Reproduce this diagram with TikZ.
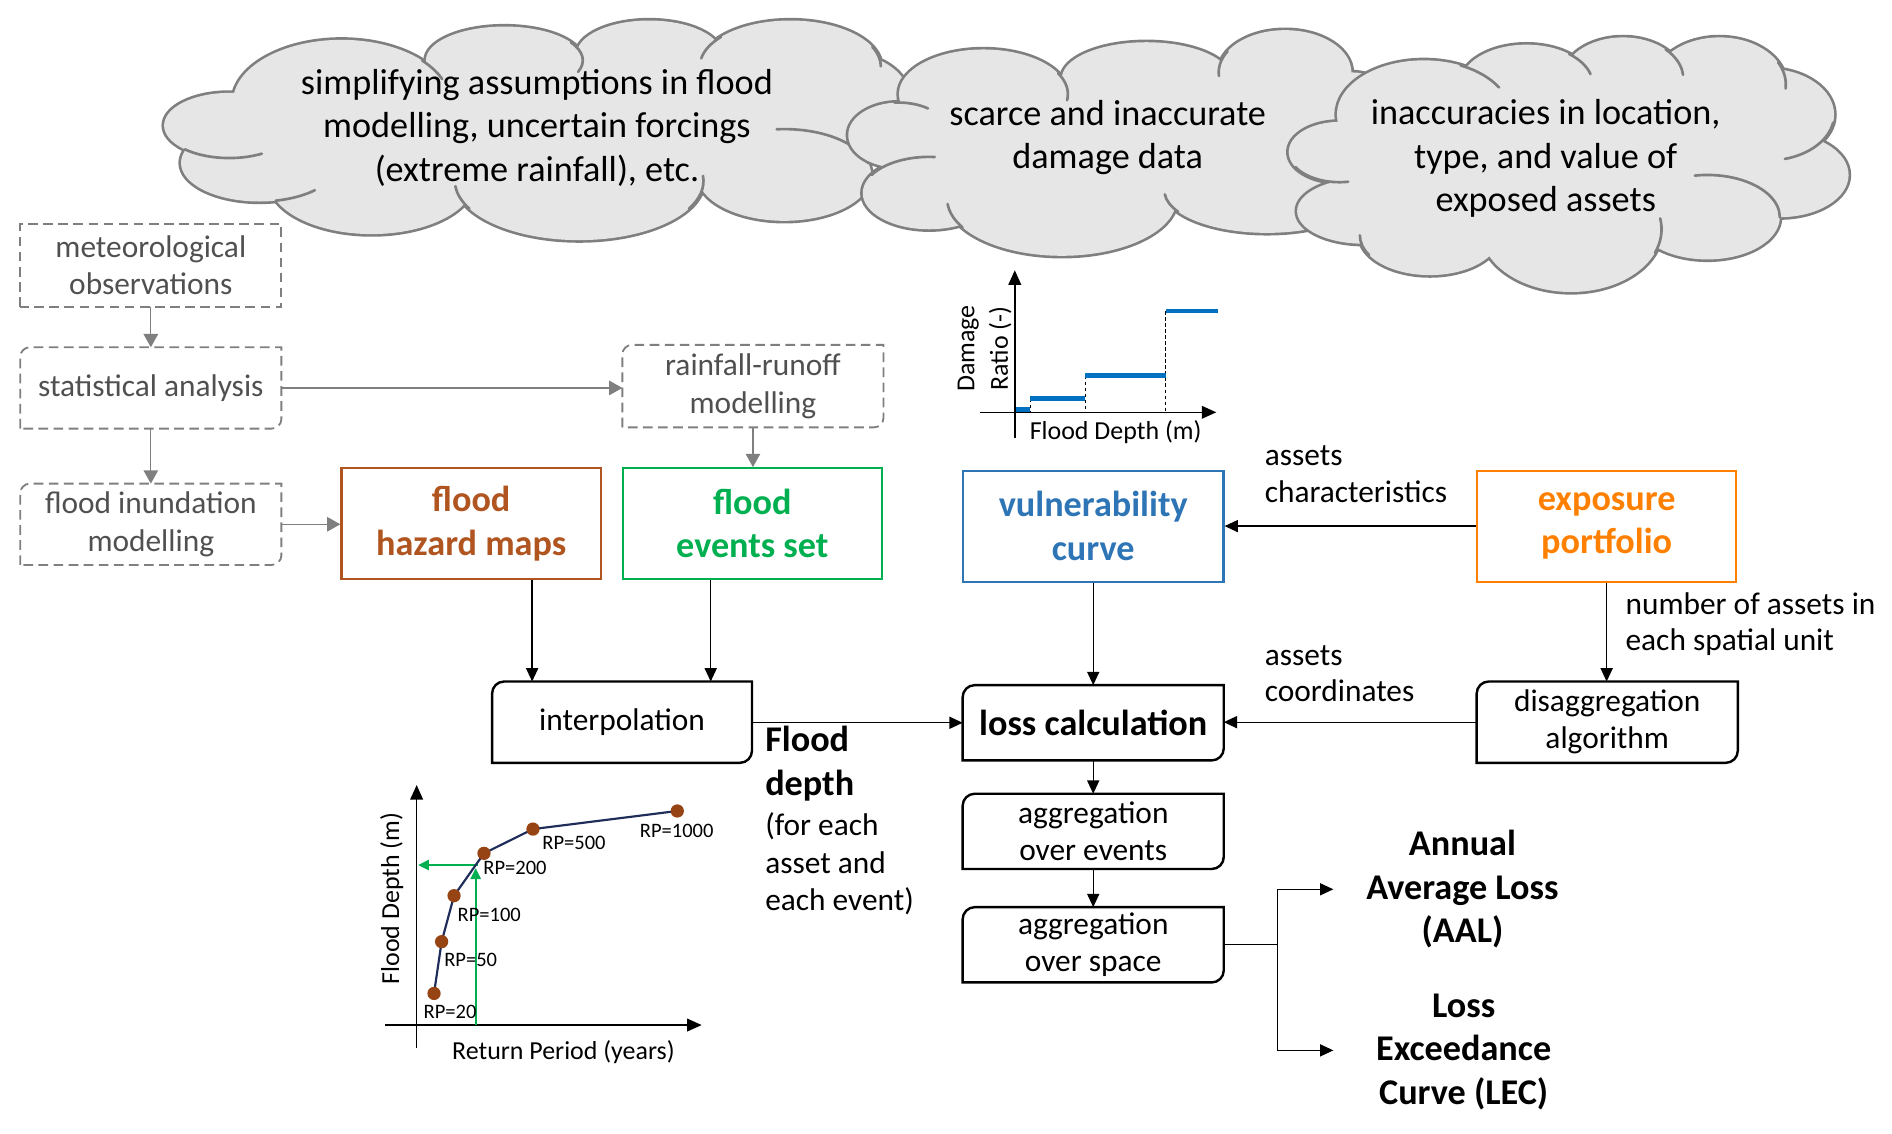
\documentclass[tikz,border=0pt]{standalone}
\usepackage{fontspec}
\setmainfont{Carlito}
\usetikzlibrary{arrows.meta,calc}
\definecolor{cloudfill}{RGB}{231,230,230}
\definecolor{cloudline}{RGB}{127,127,127}
\definecolor{dgray}{RGB}{127,127,127}
\definecolor{tgray}{RGB}{80,80,80}
\definecolor{hbrown}{RGB}{176,84,32}
\definecolor{egreen}{RGB}{0,176,80}
\definecolor{vblue}{RGB}{46,117,182}
\definecolor{xorange}{RGB}{255,128,0}
\definecolor{stepblue}{RGB}{0,112,192}
\definecolor{curvenavy}{RGB}{31,45,90}
\definecolor{dotbrown}{RGB}{150,68,20}
\definecolor{arrgreen}{RGB}{0,176,80}

\newcommand{\cornerframe}[3][]{\draw[#1] (#2.south west) -- ([yshift=-#3]#2.north west) arc[start angle=180,end angle=90,radius=#3] -- (#2.north east) -- ([yshift=#3]#2.south east) arc[start angle=0,end angle=-90,radius=#3] -- cycle;}

\newcommand{\drawcloud}[2]{%
  \foreach \cx/\cy/\rx/\ry in {#1}{\draw[cloudline, line width=4.4pt] (\cx,-\cy) ellipse[x radius=\rx pt, y radius=\ry pt];}
  \foreach \cx/\cy/\rx/\ry in {#1}{\fill[cloudfill] (\cx,-\cy) ellipse[x radius=\rx pt, y radius=\ry pt];}
  \fill[cloudfill] (#2) \foreach \cx/\cy/\rx/\ry in {#1}{ -- (\cx,-\cy)} -- cycle;
}
\newcommand{\innerarcs}[1]{%
  \foreach \cx/\cy/\rx/\ry/\ta/\tb in {#1}{\draw[cloudline, line width=2.2pt, line cap=round] ($(\cx,-\cy)+(\ta:\rx pt and \ry pt)$) arc[start angle=\ta, end angle=\tb, x radius=\rx pt, y radius=\ry pt];}
}

\tikzset{
  dbox/.style={inner sep=0pt, minimum width=216pt, align=center, text=tgray, font=\fontsize{26}{31}\selectfont},
  dframe/.style={draw=dgray, line width=1.5pt, dash pattern=on 8pt off 4.5pt},
  cbox/.style={inner sep=0pt, minimum width=215pt, minimum height=92pt, align=center, line width=1.8pt, font=\bfseries\fontsize{30}{36}\selectfont},
  kbox/.style={inner sep=0pt, minimum width=216pt, align=center, font=\fontsize{26}{30.5}\selectfont},
  kframe/.style={draw=black, line width=2pt},
  lab/.style={inner sep=0pt, anchor=west, align=left, font=\fontsize{26}{30}\selectfont},
  cloudtext/.style={inner sep=0pt, align=center, font=\fontsize{30}{36}\selectfont},
  bigbold/.style={inner sep=0pt, align=center, font=\bfseries\fontsize{30}{36}\selectfont},
  arr/.style={-{Triangle[length=11pt,width=10pt]}, line width=1.1pt, draw=black},
  garr/.style={-{Triangle[length=11pt,width=12pt]}, line width=1.1pt, draw=dgray, fill=dgray},
  axisline/.style={-{Triangle[length=12pt,width=10.5pt]}, line width=1.2pt, draw=black},
  stepline/.style={line width=4pt, draw=stepblue},
  guideline/.style={line width=0.9pt, draw=black, dash pattern=on 3pt off 2pt},
  charttext/.style={inner sep=0pt, font=\fontsize{21.5}{24}\selectfont},
  rptext/.style={inner sep=0pt, font=\fontsize{17}{20}\selectfont},
  greenarr/.style={-{Triangle[length=9pt,width=8.5pt]}, line width=1.7pt, draw=arrgreen, fill=arrgreen},
}

\begin{document}
\begin{tikzpicture}[x=1pt,y=1pt]
\useasboundingbox (0,0) rectangle (1568,-939);

% ---------- clouds ----------
\drawcloud{190/104/54/27, 283/85/90/52, 418/50/65/28, 538/45/60/28, 655/55/75/38, 705/85/50/40, 650/145/72/38, 480/150/103/49, 308/150/85/44, 215/135/65/32}{190,-104}
\innerarcs{283/85/90/52/42/22, 418/50/65/28/32/-20, 655/55/75/38/140/170, 655/55/75/38/25/0, 650/145/72/38/15/95, 480/150/103/49/-28/5, 480/150/103/49/-152/-175, 215/135/65/32/-78/-45, 190/104/54/27/-133/-60}
\drawcloud{745/112/42/27, 815/78/70/37, 950/65/70/30, 1065/60/55/35, 1120/105/45/45, 1050/158/85/35, 880/165/95/47, 770/160/55/30}{745,-112}
\innerarcs{745/112/42/27/95/55, 770/160/55/30/150/85, 815/78/70/37/28/-8, 1065/60/55/35/150/185, 1050/158/85/35/-150/-175, 880/165/95/47/-150/-175}
\drawcloud{1110/126/42/25, 1180/95/72/45, 1265/70/55/33, 1345/65/50/34, 1425/70/55/39, 1465/95/55/38, 1475/145/57/35, 1415/180/60/35, 1302/190/75/52, 1185/195/58/33, 1130/175/55/27}{1110,-126}
\innerarcs{1110/126/42/25/-150/-80, 1180/95/72/45/65/30, 1265/70/55/33/50/15, 1345/65/50/34/45/5, 1425/70/55/39/28/-5, 1465/95/55/38/-10/-75, 1415/180/60/35/0/100, 1302/190/75/52/-22/10, 1185/195/58/33/-150/-180}

\node[cloudtext] (c1) at (445,-106) {simplifying assumptions in flood\\modelling, uncertain forcings\\(extreme rainfall), etc.};
\node[cloudtext] (c2) at (918,-114) {scarce and inaccurate\\damage data};
\node[cloudtext] (c3) at (1281,-131.5) {inaccuracies in location,\\type, and value of\\exposed assets};

% ---------- dashed gray boxes ----------
\node[dbox, minimum height=68pt] (meteo) at (125,-220) {meteorological\\observations};
\draw[dframe] (meteo.south west) rectangle (meteo.north east);
\node[dbox, minimum height=67pt] (stat) at (125,-321.5) {statistical analysis};
\cornerframe[dframe]{stat}{8pt}
\node[dbox, minimum height=67pt] (inund) at (125,-434.5) {flood inundation\\modelling};
\cornerframe[dframe]{inund}{8pt}
\node[dbox, minimum height=68pt] (rain) at (624,-320) {rainfall-runoff\\modelling};
\cornerframe[dframe]{rain}{8pt}

% ---------- coloured boxes ----------
\node[cbox, draw=hbrown, text=hbrown] (hazard) at (390.5,-434) {flood\\hazard maps};
\node[cbox, draw=egreen, text=egreen] (events) at (623.5,-434) {flood\\events set};
\node[cbox, draw=vblue, text=vblue, minimum width=216pt] (vuln) at (906,-436) {vulnerability\\curve};
\node[cbox, draw=xorange, text=xorange] (expo) at (1331.5,-436) {exposure\\portfolio};

% ---------- black boxes ----------
\node[kbox, minimum width=215pt, minimum height=67pt] (interp) at (515.5,-598.5) {interpolation};
\cornerframe[kframe]{interp}{10pt}
\node[kbox, minimum height=62pt, font=\bfseries\fontsize{30}{36}\selectfont] (loss) at (906,-599) {loss calculation};
\cornerframe[kframe]{loss}{10pt}
\node[kbox, minimum height=67pt] (disagg) at (1332,-598.5) {disaggregation\\algorithm};
\cornerframe[kframe]{disagg}{10pt}
\node[kbox, minimum height=62pt] (aggev) at (906,-689) {aggregation\\over events};
\cornerframe[kframe]{aggev}{10pt}
\node[kbox, minimum height=62pt] (aggsp) at (906,-783) {aggregation\\over space};
\cornerframe[kframe]{aggsp}{10pt}

% ---------- labels ----------
\node[lab] (lchar) at (1048,-393) {assets\\characteristics};
\node[lab] (lnum) at (1347,-517) {number of assets in\\each spatial unit};
\node[lab] (lcoord) at (1048,-558) {assets\\coordinates};
\node[lab, font=\bfseries\fontsize{30}{36}\selectfont] (fdepth) at (634,-633) {Flood\\depth};
\node[lab, font=\fontsize{26}{31}\selectfont] (fdnote) at (634,-716) {(for each\\asset and\\each event)};
\node[bigbold] (aal) at (1212,-737) {Annual\\Average Loss\\(AAL)};
\node[bigbold] (lec) at (1213,-871.5) {Loss\\Exceedance\\Curve (LEC)};

% ---------- gray connectors ----------
\draw[garr] (meteo.south) -- (stat.north);
\draw[garr] (stat.south) -- (inund.north);
\draw[garr] (stat.east) -- (stat.east -| rain.west);
\draw[garr] (rain.south) -- (rain.south |- events.north);
\draw[garr] (inund.east) -- (inund.east -| hazard.west);

% ---------- black connectors ----------
\draw[arr] ([xshift=50.5pt]hazard.south) -- ([xshift=50.5pt]hazard.south |- interp.north);
\draw[arr] ([xshift=-34.5pt]events.south) -- ([xshift=-34.5pt]events.south |- interp.north);
\draw[arr] (interp.east |- loss.west) -- (loss.west);
\draw[arr] (vuln.south) -- (loss.north);
\draw[arr] (expo.west) -- (vuln.east);
\draw[arr] (expo.south) -- (expo.south |- disagg.north);
\draw[arr] (disagg.west) -- (disagg.west -| loss.east);
\draw[arr] (loss.south) -- (aggev.north);
\draw[arr] (aggev.south) -- (aggsp.north);
\coordinate (fork) at (1058.5,-783);
\coordinate (aalin) at (1105,-737);
\coordinate (lecin) at (1105,-870.5);
\draw[line width=1.1pt] (aggsp.east) -- (fork);
\draw[arr] (fork) |- (aalin);
\draw[arr] (fork) |- (lecin);

% ---------- vulnerability chart ----------
\draw[axisline] (841,-363) -- (841,-224);
\draw[axisline] (812,-341.7) -- (1008,-341.7);
\draw[guideline] (854,-330.4) -- (854,-341.7);
\draw[guideline] (899.5,-311.3) -- (899.5,-341.7);
\draw[guideline] (966,-257.8) -- (966,-341.7);
\draw[stepline] (842,-339.5) -- (854,-339.5);
\draw[stepline] (854,-330.4) -- (899.5,-330.4);
\draw[stepline] (899.5,-311.3) -- (966,-311.3);
\draw[stepline] (966,-257.8) -- (1009,-257.8);
\node[charttext, rotate=90] (vdmg) at (802.5,-289) {Damage};
\node[charttext, rotate=90] (vratio) at (828.8,-289) {Ratio (-)};
\node[charttext] (vfd) at (924.6,-357.8) {Flood Depth (m)};

% ---------- return period chart ----------
\draw[axisline] (345.3,-868.8) -- (345.3,-650.6);
\draw[axisline] (319.1,-849.5) -- (581.5,-849.5);
\draw[greenarr] (394.2,-849.5) -- (394.2,-719.5);
\draw[greenarr] (396.4,-716.9) -- (346.5,-716.9);
\draw[line width=1.8pt, curvenavy] (359.7,-823.3) -- (366.0,-780.4) -- (376.3,-742.3) -- (401.1,-707.2) -- (441.7,-687.1) -- (561.3,-672.1);
\foreach \px/\py in {359.7/823.3, 366.0/780.4, 376.3/742.3, 401.1/707.2, 441.7/687.1, 561.3/672.1}
  {\fill[dotbrown] (\px,-\py) circle[radius=5.5pt];}
\node[rptext] (rp20) at (373,-838.4) {RP=20};
\node[rptext] (rp50) at (390.1,-795.6) {RP=50};
\node[rptext] (rp100) at (405.5,-758.3) {RP=100};
\node[rptext] (rp200) at (426.8,-719.6) {RP=200};
\node[rptext] (rp500) at (475.7,-698.4) {RP=500};
\node[rptext] (rp1000) at (560.8,-688.7) {RP=1000};
\node[charttext, rotate=90] (rfd) at (324.6,-744.5) {Flood Depth (m)};
\node[charttext] (rrp) at (466.9,-871.6) {Return Period (years)};

\end{tikzpicture}
\end{document}
